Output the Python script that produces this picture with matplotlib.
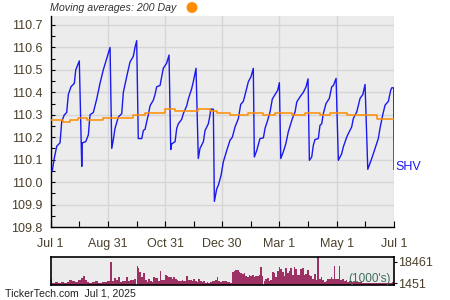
import matplotlib
matplotlib.use("Agg")
import matplotlib.pyplot as plt
import numpy as np

# ---------------- data ----------------
# x positions are days since Jul 1, 2024
price_day = [0, 1.7, 3.5, 6.4, 9.9, 11.7, 14.5, 17.0, 18.7, 21.6, 25.1, 26.6, 30.4,
             33.0, 33.6, 37.2, 40.0, 41.8, 45.3, 48.9, 52.4, 55.9, 59.5, 63.1,
             64.9, 66.6, 68.4, 71.9, 75.5, 77.2, 80.8, 84.3, 87.8, 89.6, 91.4,
             93.1, 96.8, 98.5, 100.3, 102.1, 103.8, 105.6, 109.1, 110.9, 112.7, 116.2,
             118.0, 119.7, 123.3, 125.8,
             127.6, 128.6, 132.2, 134.0, 135.7, 139.3, 141.0, 144.6, 146.3, 149.9,
             151.6, 154.5,
             156.9, 158.7, 162.3, 164.1, 167.6, 169.4, 170.1, 172.9,
             174.0, 176.5, 178.2, 181.1, 183.5, 187.1, 190.6, 193.1, 196.0, 199.5,
             202.0, 204.8, 207.3, 210.1, 213.0, 215.4,
             216.5, 219.0, 222.5, 226.1, 227.9, 230.7, 233.2, 235.6, 239.2, 241.4, 243.1,
             244.6, 247.3, 249.9, 252.6, 256.9, 259.8, 261.6, 265.1, 268.6, 271.5, 273.6,
             275.0, 277.5, 279.2, 281.0, 284.5, 286.3, 288.1, 289.8, 292.7, 296.2,
             298.8, 300.5, 303.4,
             305.8, 309.4, 311.1, 314.7, 316.4, 320.0, 321.7, 325.4, 328.9, 331.8, 334.2,
             337.1, 341.3, 344.8, 348.3, 350.1, 353.0, 355.5, 359.0, 361.5, 362.6, 364.7,
             365.0]
price_val = [110.05, 110.05, 110.10, 110.16, 110.175, 110.27, 110.30, 110.31, 110.39,
             110.425, 110.44, 110.50, 110.54,
             110.07, 110.175, 110.18, 110.21, 110.30, 110.31, 110.37, 110.44, 110.50,
             110.55, 110.60,
             110.15, 110.19, 110.24, 110.29, 110.305, 110.40, 110.47, 110.535, 110.56,
             110.60, 110.63,
             110.194, 110.194, 110.23, 110.235, 110.27, 110.30, 110.34, 110.365, 110.39,
             110.425, 110.43, 110.47, 110.507, 110.53, 110.566,
             110.145, 110.17, 110.18, 110.24, 110.26, 110.28, 110.305, 110.34, 110.37,
             110.417, 110.447, 110.507,
             110.105, 110.15, 110.18, 110.23, 110.26, 110.30, 110.325, 110.325,
             109.914, 109.97, 109.986, 110.03, 110.09, 110.14, 110.186, 110.20, 110.246,
             110.283, 110.346, 110.36, 110.40, 110.447, 110.47, 110.507,
             110.112, 110.14, 110.194, 110.197, 110.24, 110.276, 110.313, 110.37, 110.395,
             110.41, 110.443,
             110.105, 110.135, 110.17, 110.224, 110.283, 110.313, 110.357, 110.38, 110.40,
             110.425, 110.46,
             110.097, 110.112, 110.164, 110.19, 110.194, 110.253, 110.26, 110.305, 110.35,
             110.373, 110.425, 110.43, 110.462,
             110.097, 110.127, 110.157, 110.20, 110.216, 110.246, 110.283, 110.313,
             110.373, 110.39, 110.435,
             110.057, 110.105, 110.15, 110.194, 110.24, 110.30, 110.343, 110.36, 110.41,
             110.42, 110.42,
             110.057]

ma_day = [0, 13.1, 20.5, 29.0, 38.6, 55.6, 87.5, 100.3, 121.5, 132.2, 156.6, 169.4,
          176.8, 190.7, 209.8, 225.8, 238.6, 256.7, 270.5, 286.4, 297.0, 315.0, 346.9, 365]
ma_val = [110.276, 110.266, 110.276, 110.285, 110.276, 110.285, 110.297, 110.306,
          110.325, 110.316, 110.324, 110.316, 110.306, 110.297, 110.306, 110.297,
          110.306, 110.297, 110.306, 110.297, 110.306, 110.297, 110.283, 110.283]

vol_day = [0.7, 2.8, 6.0, 9.2, 12.4, 15.6, 18.7, 21.2, 24.4, 27.6, 30.8, 32.9, 35.1,
           37.2, 39.7, 42.8, 46.0, 49.2, 52.4, 55.6, 58.8, 61.6, 63.8, 65.9, 68.0,
           70.1, 72.3, 74.4, 77.2, 79.4, 81.5, 83.6, 85.7, 87.9, 90.0,
           92.1, 93.5, 95.1, 97.1, 99.2, 101.2, 102.9, 104.7, 106.5, 108.2, 110.0,
           111.8, 113.6, 115.3, 116.7, 118.5, 120.6, 122.4, 124.2, 126.0, 127.7,
           129.5, 131.3, 133.0, 134.8, 136.6, 138.4, 140.1, 141.9, 143.7, 145.1,
           146.9, 149.0, 150.8, 152.5, 154.3, 156.1, 157.9, 159.6, 161.4, 163.2,
           164.9, 166.7, 168.5, 170.3, 172.0, 173.8, 175.6, 177.4, 179.1, 180.9,
           183.6, 184.8, 186.6, 188.3, 190.1, 191.9, 193.7, 195.4, 197.2, 199.0,
           200.7, 202.5, 204.3, 206.1, 207.8, 209.6, 211.4, 213.2, 214.9, 216.7,
           218.5, 220.2, 222.0, 223.4, 225.2, 227.3, 229.1, 230.9, 232.6, 234.4,
           236.2, 238.0, 239.7, 241.5, 243.3, 245.1, 246.8, 248.6, 250.4, 252.1,
           253.9, 255.7, 257.5, 259.2, 261.0, 262.8, 264.5, 266.3, 268.1, 269.9,
           271.6, 273.4, 275.2, 276.9, 279.1, 280.8, 282.6, 284.4, 286.2, 287.9,
           289.7, 291.5, 293.2, 295.0, 296.8, 298.6, 300.3, 301.8, 303.5, 305.7,
           306.9, 308.7, 311.0, 312.7, 314.5, 316.3, 318.9, 322.5, 326.0, 329.6,
           333.1, 336.7, 340.2, 343.8, 347.3, 350.8, 354.4, 357.9, 361.5, 364.0]
vol_val = [5100, 1870, 2400, 1870, 2670, 1870, 2400, 3740, 2940, 2400, 4000, 5600, 6940,
           4000, 2670, 1870, 2140, 2940, 1870, 2670, 2140, 3470, 18420, 3470, 5600,
           3740, 6140, 2670, 2940, 3200, 6400, 3470, 3740, 4000, 5070,
           15200, 13900, 10400, 6700, 9600, 4000, 2400, 4540, 3200, 2400, 6400,
           5600, 5870, 2940, 11200, 4000, 3740, 8280, 7200, 6400, 6140,
           5070, 6400, 5070, 3740, 2940, 3200, 3740, 3470, 2940, 7200,
           3740, 4000, 3470, 4540, 3470, 2670, 5070, 3470, 2400, 2940,
           1870, 2670, 1600, 2140, 2940, 3470, 3740, 6400, 2940, 2400,
           3470, 2940, 3470, 2400, 2400, 1870, 10400, 10950, 11750, 12000,
           10400, 9600, 9080, 9880, 7200, 6700, 7740, 6940, 8280, 6700,
           7200, 6940, 7740, 14400, 7200, 3200, 4540, 5600, 3470, 4000,
           10400, 9880, 6400, 10950, 14400, 13100, 10400, 7200, 13600, 9880,
           10950, 13600, 8280, 14400, 13100, 7740, 8010, 13100, 13600, 8280,
           8810, 11750, 7740, 7200, 5070, 9080, 3740, 23230, 4540, 6400,
           3740, 2400, 2940, 5070, 4540, 6400, 4540, 15200, 5070, 4540,
           15200, 4000, 5070, 2940, 3740, 2400, 2940, 2140, 2400, 2140,
           1870, 1600, 1870, 1870, 1600, 1870, 1340, 1600, 1600, 2400]

x_tick_pos = [0, 61, 122, 182, 243, 304, 365]
x_tick_labels = ["Jul 1", "Aug 31", "Oct 31", "Dec 30", "Mar 1", "May 1", "Jul 1"]
y_ticks = [109.8, 109.9, 110.0, 110.1, 110.2, 110.3, 110.4, 110.5, 110.6, 110.7]
vol_ticks = [1451, 18461]

# ---------------- style ----------------
plt.rcParams['font.family'] = ['Liberation Sans', 'DejaVu Sans']
txt_col = "#4a3f2a"
bg = "#ececec"
grid_col = "#d6d6d6"

fig = plt.figure(figsize=(4.5, 3.0), dpi=100)
fig.patch.set_facecolor("white")

ax = fig.add_axes([0.1127, 0.2433, 0.7629, 0.7034])
ax.set_facecolor(bg)
ax.plot(price_day, price_val, color="#1a1aee", lw=1.0, zorder=3)
ax.step(ma_day, ma_val, where="post", color="#ff8c00", lw=1.1, zorder=4)
ax.set_xlim(0, 365)
ax.set_ylim(109.8, 110.74)
ax.set_yticks(y_ticks)
ax.set_yticklabels([f"{v:.1f}" for v in y_ticks])
ax.set_yticks([v + 0.05 for v in y_ticks[:-1]], minor=True)
ax.set_xticks(x_tick_pos)
ax.set_xticklabels(x_tick_labels)
mids = [(a + b) / 2 for a, b in zip(x_tick_pos[:-1], x_tick_pos[1:])]
ax.set_xticks(mids, minor=True)
ax.grid(True, which="major", color=grid_col, lw=1.0, zorder=0)
ax.set_axisbelow(True)
for s in ["top", "right"]:
    ax.spines[s].set_visible(False)
for s in ["left", "bottom"]:
    ax.spines[s].set_color("black")
    ax.spines[s].set_linewidth(1.0)
ax.tick_params(axis="y", which="both", direction="in", length=3, width=0.8,
               labelsize=9, labelcolor=txt_col, pad=6)
ax.tick_params(axis="x", which="both", direction="in", length=4, width=0.8,
               labelsize=9, labelcolor=txt_col, pad=8)

ax.text(1.004, 0.285, "SHV", transform=ax.transAxes, color="#1a1aee",
        fontsize=9, va="center", ha="left")

fig.text(50 / 450, 0.972, "Moving averages: 200 Day", fontsize=7.7, style="italic",
         color="#333333", ha="left", va="center")
fig.patches.append(matplotlib.patches.Ellipse((192 / 450, 1 - 7.5 / 300), 9.5 / 450, 9.5 / 300,
                                              transform=fig.transFigure,
                                              color="#ff8c00", zorder=5))

# volume panel
axv = fig.add_axes([0.1127, 0.05, 0.7629, 0.095])
axv.set_facecolor(bg)
widths = np.gradient(np.array(vol_day))
axv.bar(vol_day, vol_val, width=widths, color="#9c3264", edgecolor="none",
        align="center", zorder=2)
axv.set_xlim(0, 365)
axv.set_ylim(0, 22870)
axv.set_xticks([])
axv.yaxis.tick_right()
axv.set_yticks(vol_ticks)
axv.set_yticklabels([str(v) for v in vol_ticks])
axv.tick_params(axis="y", direction="out", length=2, width=0.8, labelsize=9,
                labelcolor=txt_col, pad=1)
for s in axv.spines.values():
    s.set_color("black")
    s.set_linewidth(1.2)
axv.text(0.99, 0.22, "(1000's)", transform=axv.transAxes, color="#3f6e5a",
         fontsize=8.5, ha="right", va="center", zorder=5)

fig.text(0.011, 0.02, "TickerTech.com  Jul 1, 2025", fontsize=7.6, color="#222222",
         ha="left", va="center")

fig.savefig("out.png", dpi=100, facecolor="white")
